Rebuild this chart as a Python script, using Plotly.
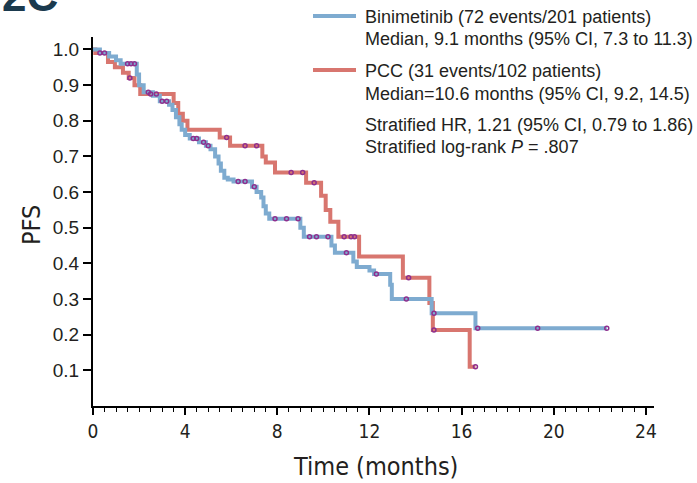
import numpy as np
import plotly.graph_objects as go

# ---- data ----
bini_t = [0, 0.3, 0.7, 1.0, 1.2, 1.9, 2.0, 2.2, 2.6, 2.9, 3.3, 3.45, 3.6, 3.75, 3.85, 4.0, 4.2, 4.6, 4.9,
          5.1, 5.3, 5.45, 5.55, 5.7, 5.85, 6.1, 6.9, 7.1, 7.3, 7.4, 7.5, 7.65, 9.0, 9.15, 10.35, 10.5,
          11.3, 11.45, 12.0, 12.2, 12.9, 12.97, 14.7, 16.6]
bini_s = [1.0, 0.99, 0.98, 0.97, 0.96, 0.93, 0.90, 0.88, 0.87, 0.855, 0.845, 0.83, 0.81, 0.79, 0.775, 0.76,
          0.75, 0.74, 0.73, 0.72, 0.70, 0.68, 0.66, 0.64, 0.635, 0.63, 0.615, 0.60, 0.585, 0.56, 0.54,
          0.525, 0.50, 0.475, 0.45, 0.43, 0.405, 0.39, 0.38, 0.37, 0.34, 0.30, 0.26, 0.218]
bini_end = 22.3
bini_cens = [0.5, 1.5, 1.65, 1.8, 2.4, 3.0, 3.2, 4.35, 4.5, 4.8, 5.0, 6.3, 6.6, 7.0, 7.9, 8.4, 8.9,
             9.4, 9.7, 10.2, 11.0, 12.3, 13.6, 14.8, 16.7, 19.3, 22.3]

pcc_t = [0, 0.1, 0.65, 0.95, 1.3, 1.55, 1.8, 2.05, 3.5, 3.7, 3.9, 4.1, 5.5, 5.95, 7.35, 7.5, 7.9,
         9.25, 9.9, 10.1, 10.3, 10.65, 11.55, 13.45, 14.6, 14.75, 16.35]
pcc_s = [1.0, 0.99, 0.965, 0.95, 0.935, 0.92, 0.90, 0.875, 0.85, 0.82, 0.80, 0.775, 0.753, 0.73, 0.70,
         0.683, 0.655, 0.626, 0.59, 0.55, 0.517, 0.475, 0.419, 0.36, 0.289, 0.213, 0.11]
pcc_end = 16.6
pcc_cens = [0.3, 1.6, 2.5, 2.75, 5.8, 6.6, 7.1, 8.6, 9.1, 9.6, 10.9, 11.2, 11.35, 13.7, 14.8, 16.6]

x_ticks = [0, 4, 8, 12, 16, 20, 24]
y_ticks = [0.1, 0.2, 0.3, 0.4, 0.5, 0.6, 0.7, 0.8, 0.9, 1.0]
y_tick_text = ["0.1", "0.2", "0.3", "0.4", "0.5", "0.6", "0.7", "0.8", "0.9", "1.0"]

legend_lines = [
    "Binimetinib (72 events/201 patients)",
    "Median, 9.1 months (95% CI, 7.3 to 11.3)",
    "PCC (31 events/102 patients)",
    "Median=10.6 months (95% CI, 9.2, 14.5)",
    "Stratified HR, 1.21 (95% CI, 0.79 to 1.86)",
    "Stratified log-rank <i>P</i> = .807",
]

BLUE = "#7EABD0"
RED = "#D8766F"
PURPLE = "#8E2F8E"
INK = "#231F20"


def step_at(times, surv, q):
    idx = np.searchsorted(np.array(times), np.array(q), side="right") - 1
    return [surv[i] for i in idx]


fig = go.Figure()
fig.add_trace(go.Scatter(x=pcc_t + [pcc_end], y=pcc_s + [pcc_s[-1]], mode="lines",
                         line=dict(color=RED, width=4, shape="hv"), showlegend=False))
fig.add_trace(go.Scatter(x=bini_t + [bini_end], y=bini_s + [bini_s[-1]], mode="lines",
                         line=dict(color=BLUE, width=4, shape="hv"), showlegend=False))
fig.add_trace(go.Scatter(x=pcc_cens, y=step_at(pcc_t, pcc_s, pcc_cens), mode="markers",
                         marker=dict(symbol="circle-open", size=4, color=PURPLE, line=dict(width=1.5, color=PURPLE)),
                         showlegend=False))
fig.add_trace(go.Scatter(x=bini_cens, y=step_at(bini_t, bini_s, bini_cens), mode="markers",
                         marker=dict(symbol="circle-open", size=4, color=PURPLE, line=dict(width=1.5, color=PURPLE)),
                         showlegend=False))

W, H = 697, 483
ml, mr, mt, mb = 93, 43, 37, 77
pw, ph = W - ml - mr, H - mt - mb


def px(xp):
    return (xp - ml) / pw


def py(yp):
    return (H - mb - yp) / ph


narrow = "DejaVu Sans Condensed, Liberation Sans Narrow, Arial Narrow, sans-serif"
regular = "Liberation Sans, Arial, sans-serif"

fig.update_layout(
    width=W, height=H, margin=dict(l=ml, r=mr, t=mt, b=mb),
    paper_bgcolor="white", plot_bgcolor="white",
    font=dict(family=regular, color=INK),
    xaxis=dict(range=[0, 24.35], tickvals=x_ticks, ticktext=[str(v) for v in x_ticks],
               ticks="outside", ticklen=7, tickwidth=1.5, tickcolor="black", automargin=False,
               showline=True, linecolor="black", linewidth=2, showgrid=False, zeroline=False,
               tickfont=dict(family=narrow, size=19, color=INK),
               minor=dict(dtick=0.5, ticks="outside", ticklen=4, tickwidth=1, tickcolor="black")),
    yaxis=dict(range=[0, 1.035], tickvals=y_ticks, ticktext=y_tick_text, automargin=False,
               ticks="outside", ticklen=8, tickwidth=1.5, tickcolor="black",
               showline=True, linecolor="black", linewidth=2, showgrid=False, zeroline=False,
               tickfont=dict(family=regular, size=19, color=INK)),
)

annots = []
# axis titles
annots.append(dict(text="Time (months)", x=px(375), y=py(466), xref="paper", yref="paper",
                   xanchor="center", yanchor="middle",
                   showarrow=False, font=dict(family=narrow, size=25, color=INK)))
annots.append(dict(text="PFS", x=px(31), y=py(225), xref="paper", yref="paper", textangle=-90,
                   xanchor="center", yanchor="middle",
                   showarrow=False, font=dict(family=narrow, size=25, color=INK)))
# legend text
ys = [17, 39, 71, 94, 125, 147]
for t, yy in zip(legend_lines, ys):
    annots.append(dict(text=t, x=px(363), y=py(yy), xref="paper", yref="paper", xanchor="left",
                       yanchor="middle", showarrow=False,
                       font=dict(family=regular, size=18, color=INK)))
# cropped panel label at top-left
annots.append(dict(text="<b>2C</b>", x=px(0), y=py(22), xref="paper", yref="paper", xanchor="left",
                   yanchor="bottom", showarrow=False,
                   font=dict(family=regular, size=44, color="#1B3A4E")))
fig.update_layout(annotations=annots)

shapes = [
    dict(type="line", xref="paper", yref="paper", x0=px(313), x1=px(356), y0=py(16), y1=py(16),
         line=dict(color=BLUE, width=4)),
    dict(type="line", xref="paper", yref="paper", x0=px(313), x1=px(356), y0=py(70), y1=py(70),
         line=dict(color=RED, width=4)),
]
fig.update_layout(shapes=shapes)

fig.write_html("out.html", config={"displayModeBar": False},
               post_script="document.body.style.margin='0';")
